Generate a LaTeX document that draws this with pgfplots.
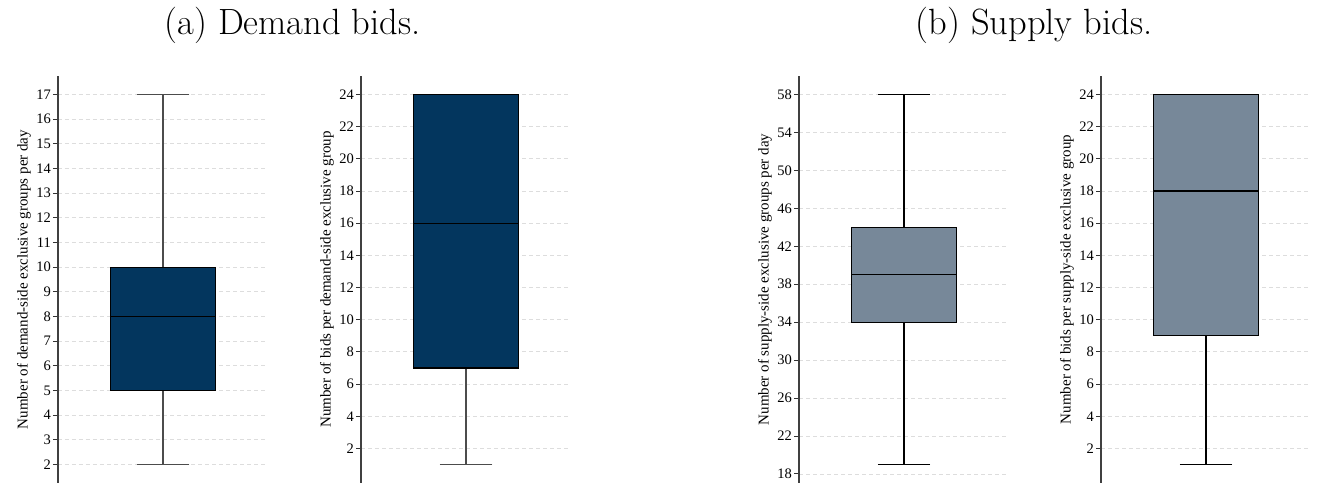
\documentclass[border=0pt]{standalone}
\usepackage{fontspec}
\newfontfamily\tnr{Liberation Serif}
\usepackage{pgfplots}
\pgfplotsset{compat=1.18}
\usepgfplotslibrary{statistics}
\definecolor{navy}{HTML}{03365E}
\definecolor{slate}{HTML}{778899}
\definecolor{gridc}{HTML}{DDDDDD}
\pgfplotsset{
 bp/.style={
  scale only axis, width=210pt, height=407pt, anchor=south west,
  xmin=0.5, xmax=1.5, axis x line=none, axis y line*=left,
  ymajorgrids, major grid style={gridc, dash pattern=on 4pt off 3pt, line width=0.8pt},
  y axis line style={line width=1.3pt, black!75},
  tick align=outside, ytick pos=left, major tick length=5pt,
  tick style={line width=1pt, black!80},
  /pgf/number format/assume math mode=true,
  yticklabel style={font=\tnr\fontsize{14.5}{16}\selectfont, inner sep=2pt},
  ylabel style={font=\tnr\fontsize{15}{17}\selectfont},
  boxplot/draw direction=y,
  boxplot/box extend=0.5, boxplot/whisker extend=0.25, boxplot/draw position=1,
 },
}
\begin{document}
\begin{tikzpicture}
\useasboundingbox (0pt,0pt) rectangle (1323pt,495pt);
\node[font=\fontsize{36.5}{42}\selectfont, anchor=base] at (292.5pt,460pt) {(a) Demand bids.};
\node[font=\fontsize{36.5}{42}\selectfont, anchor=base] at (1034pt,460pt) {(b) Supply bids.};

\begin{axis}[bp, at={(58pt,12pt)}, ymin=1.25, ymax=17.75, ytick={2,...,17},
  ylabel={Number of demand-side exclusive groups per day}]
\addplot[boxplot prepared={lower whisker=2, lower quartile=5, median=8, upper quartile=10, upper whisker=17},
  fill=navy, draw=black, line width=1.15pt, boxplot/every whisker/.style={black!70}] coordinates {};
\end{axis}

\begin{axis}[bp, at={(361pt,12pt)}, ymin=-0.15, ymax=25.15, ytick={2,4,...,24},
  ylabel={Number of bids per demand-side exclusive group}]
\addplot[boxplot prepared={lower whisker=1, lower quartile=7, median=16, upper quartile=24, upper whisker=24},
  fill=navy, draw=black, line width=1.15pt, boxplot/every whisker/.style={black!70}] coordinates {};
\end{axis}

\begin{axis}[bp, at={(799pt,12pt)}, ymin=17.05, ymax=59.95, ytick={18,22,...,58},
  ylabel={Number of supply-side exclusive groups per day}]
\addplot[boxplot prepared={lower whisker=19, lower quartile=34, median=39, upper quartile=44, upper whisker=58},
  fill=slate, draw=black, line width=1.15pt] coordinates {};
\end{axis}

\begin{axis}[bp, at={(1101pt,12pt)}, ymin=-0.15, ymax=25.15, ytick={2,4,...,24},
  ylabel={Number of bids per supply-side exclusive group}]
\addplot[boxplot prepared={lower whisker=1, lower quartile=9, median=18, upper quartile=24, upper whisker=24},
  fill=slate, draw=black, line width=1.15pt] coordinates {};
\end{axis}
\end{tikzpicture}
\end{document}
